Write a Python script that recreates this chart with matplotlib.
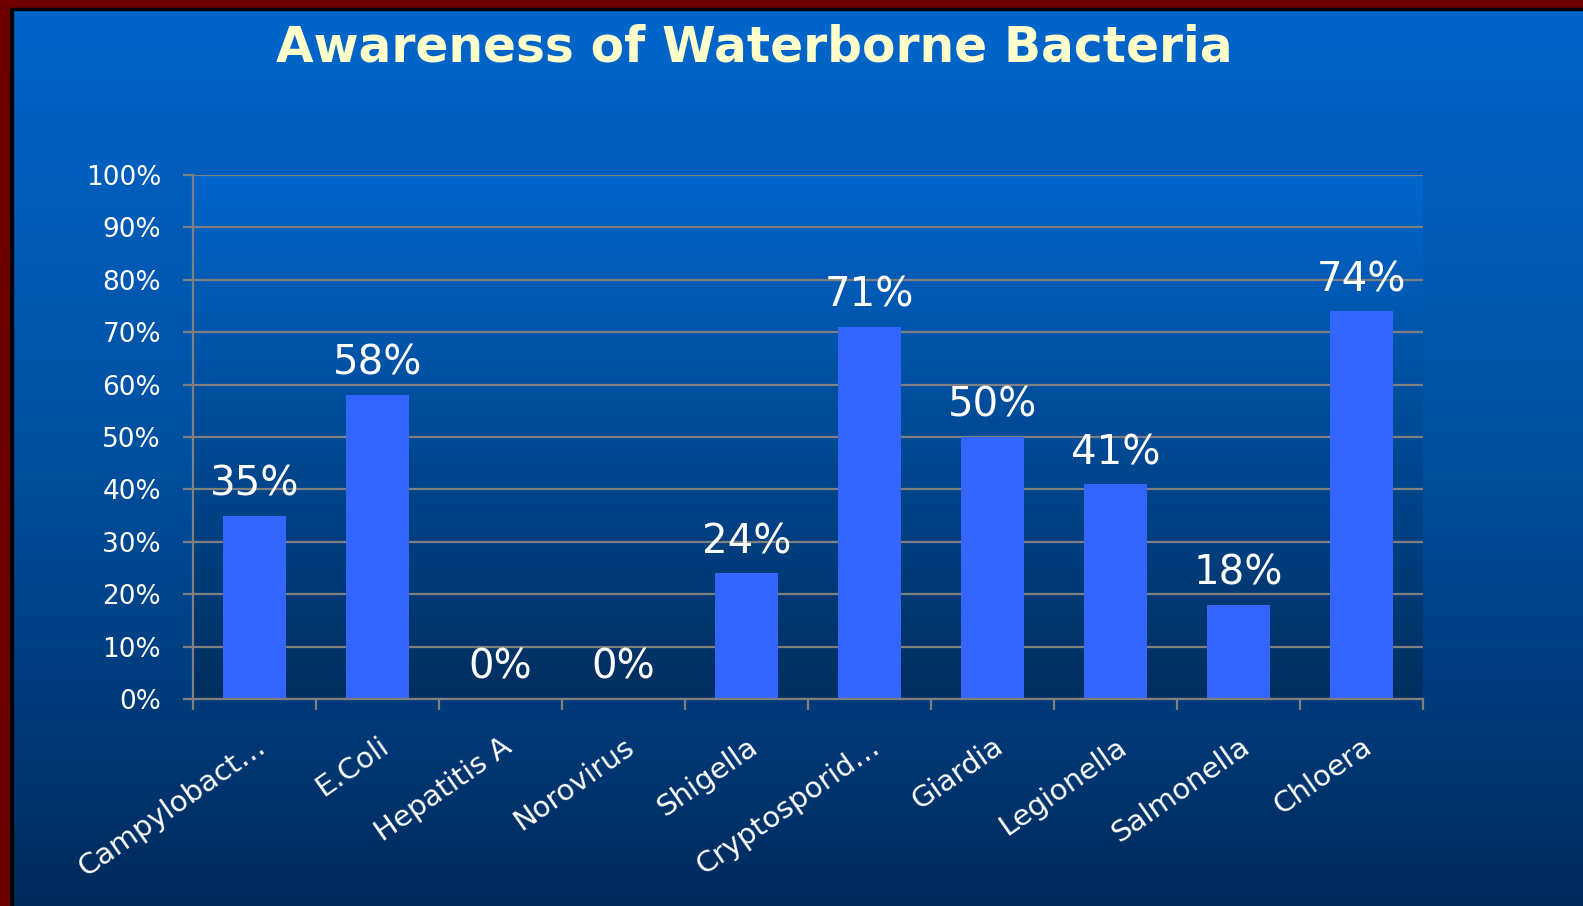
import numpy as np
import matplotlib.pyplot as plt
from matplotlib.colors import LinearSegmentedColormap
from matplotlib.patches import Rectangle
from matplotlib.transforms import ScaledTranslation

# Data
categories = ['Campylobact…', 'E.Coli', 'Hepatitis A', 'Norovirus', 'Shigella',
              'Cryptosporid…', 'Giardia', 'Legionella', 'Salmonella', 'Chloera']
values = [35, 58, 0, 0, 24, 71, 50, 41, 18, 74]
yticks = [0, 10, 20, 30, 40, 50, 60, 70, 80, 90, 100]
title = 'Awareness of Waterborne Bacteria'

fig = plt.figure(figsize=(15.83, 9.06), dpi=100)

# background gradient for the whole slide
bg = fig.add_axes([0, 0, 1, 1], zorder=-10)
bg_cmap = LinearSegmentedColormap.from_list('bg', ['#0066CC', '#0050A0', '#002A5C'])
bg.imshow(np.linspace(0, 1, 256).reshape(-1, 1), cmap=bg_cmap, aspect='auto',
          extent=(0, 1, 0, 1))
bg.set_xlim(0, 1)
bg.set_ylim(0, 1)
bg.axis('off')

# frame on left and top
fig.patches.append(Rectangle((0, 0), 10 / 1583, 1, transform=fig.transFigure,
                             color='#700000', zorder=5))
fig.patches.append(Rectangle((10 / 1583, 0), 3 / 1583, 1 - 8 / 906, transform=fig.transFigure,
                             color='black', zorder=5))
fig.patches.append(Rectangle((0, 1 - 7 / 906), 1, 7 / 906, transform=fig.transFigure,
                             color='#700000', zorder=5))
fig.patches.append(Rectangle((10 / 1583, 1 - 10 / 906), 1, 2 / 906, transform=fig.transFigure,
                             color='black', zorder=5))

ax = fig.add_axes([193 / 1583, 1 - 699 / 906, (1423 - 193) / 1583, (699 - 175) / 906])
ax.set_facecolor('none')

# plot area gradient
pa_cmap = LinearSegmentedColormap.from_list('pa', ['#002E5E', '#0066CC'])
ax.imshow(np.linspace(0, 1, 256).reshape(-1, 1), cmap=pa_cmap, aspect='auto',
          origin='lower', extent=(-0.5, 9.5, 0, 100), zorder=0)

x = np.arange(len(categories))
ax.bar(x, values, width=0.51, color='#3366FF', zorder=3)

for xi, v in zip(x, values):
    ax.annotate(f'{v}%', (xi, v), xytext=(0, 8), textcoords='offset points',
                ha='center', va='bottom', color='white', fontsize=29)

ax.set_xlim(-0.5, 9.5)
ax.set_ylim(0, 100)
ax.set_yticks(yticks)
ax.set_yticklabels([f'{t}%' for t in yticks])
ax.yaxis.grid(True, color='#808080', linewidth=1.6, zorder=1)
ax.set_axisbelow(True)

ax.set_xticks(x)
ax.set_xticklabels(categories, rotation=35, ha='right', va='top',
                   rotation_mode='anchor', fontsize=21, color='white')
shift = ScaledTranslation(4 / 100, 0, fig.dpi_scale_trans)
for lab in ax.get_xticklabels():
    lab.set_transform(lab.get_transform() + shift)
ax.set_xticks(np.arange(-0.5, 10, 1), minor=True)
ax.tick_params(axis='x', which='major', length=0, pad=24)
ax.tick_params(axis='x', which='minor', length=8, width=1.6, color='#808080')
ax.tick_params(axis='y', length=7, width=1.6, color='#808080', labelcolor='white',
               labelsize=19, pad=16)

for s in ['top', 'right']:
    ax.spines[s].set_visible(False)
for s in ['left', 'bottom']:
    ax.spines[s].set_color('#808080')
    ax.spines[s].set_linewidth(1.6)
    ax.spines[s].set_zorder(4)

fig.text(754 / 1583, 1 - 48 / 906, title, ha='center', va='center',
         color='#FFFFCC', fontsize=35, fontweight='bold')

fig.savefig('out.png', dpi=100)
